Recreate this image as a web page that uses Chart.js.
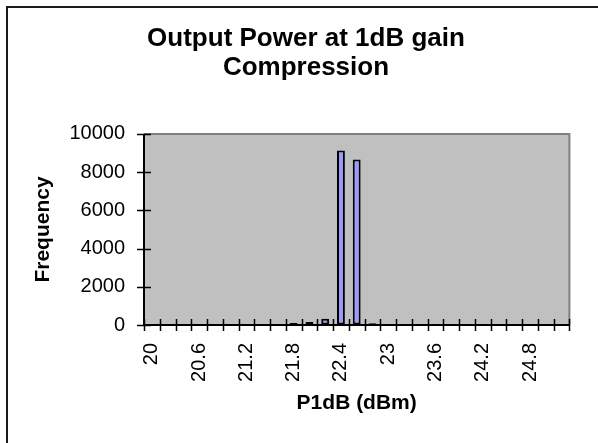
<!DOCTYPE html>
<html>
<head>
<meta charset="utf-8">
<script src="https://cdn.jsdelivr.net/npm/chart.js@4/dist/chart.umd.min.js"></script>
<style>
  html, body { margin: 0; padding: 0; background: #fff; }
  canvas { display: block; }
</style>
</head>
<body>
<canvas id="c" width="598" height="443"></canvas>
<script>
// ---- data ----
const chartTitle = ['Output Power at 1dB gain', 'Compression'];
const xTitle = 'P1dB (dBm)';
const yTitle = 'Frequency';
const categories = ['20','20.2','20.4','20.6','20.8','21','21.2','21.4','21.6','21.8',
                    '22','22.2','22.4','22.6','22.8','23','23.2','23.4','23.6','23.8',
                    '24','24.2','24.4','24.6','24.8','25','25.2'];
const frequency  = [0,0,0,0,0,0,0,0,40,100,
                    160,330,9130,8660,90,0,0,0,0,0,
                    0,0,0,0,0,0,0];
const yTickValues = [0, 2000, 4000, 6000, 8000, 10000];
const labelEvery = 3;

const FONT = "'Liberation Sans', Arial, Helvetica, sans-serif";
Chart.defaults.color = '#000';
Chart.defaults.font.family = FONT;

const framePlugin = {
  id: 'frame',
  beforeDraw(chart) {
    const { ctx, chartArea: a } = chart;
    ctx.save();
    ctx.fillStyle = '#fff';
    ctx.fillRect(0, 0, chart.width, chart.height);
    ctx.fillStyle = '#C0C0C0';
    ctx.fillRect(a.left, a.top, a.right - a.left, a.bottom - a.top);
    ctx.fillStyle = '#1a1a1a';
    ctx.fillRect(6, 6, 2, chart.height - 6);
    ctx.fillRect(6, 6, chart.width - 6, 2);
    ctx.restore();
  },
  afterDraw(chart) {
    const { ctx, chartArea: a, scales } = chart;
    ctx.save();
    ctx.strokeStyle = '#808080';
    ctx.lineWidth = 2;
    ctx.beginPath();
    ctx.moveTo(a.left, a.top);
    ctx.lineTo(a.right, a.top);
    ctx.lineTo(a.right, a.bottom);
    ctx.stroke();
    ctx.strokeStyle = '#000';
    ctx.lineWidth = 1.5;
    ctx.beginPath();
    scales.y.ticks.forEach(t => {
      const py = Math.round(scales.y.getPixelForValue(t.value)) + 0.5;
      ctx.moveTo(a.left - 7, py);
      ctx.lineTo(a.left + 7, py);
    });
    for (let i = 0; i <= categories.length; i++) {
      const px = Math.round(scales.x.getPixelForValue(i - 0.5)) + 0.5;
      ctx.moveTo(px, a.bottom - 6);
      ctx.lineTo(px, a.bottom + 6);
    }
    ctx.stroke();
    ctx.lineWidth = 2;
    ctx.beginPath();
    ctx.moveTo(a.left, a.top);
    ctx.lineTo(a.left, a.bottom);
    ctx.lineTo(a.right, a.bottom);
    ctx.stroke();
    ctx.restore();
  }
};

new Chart(document.getElementById('c'), {
  type: 'bar',
  data: {
    labels: categories,
    datasets: [{
      label: yTitle,
      data: frequency,
      backgroundColor: '#9999FF',
      borderColor: '#000',
      borderWidth: 2,
      borderSkipped: false,
      barPercentage: 0.5,
      categoryPercentage: 1.0
    }]
  },
  options: {
    responsive: false,
    animation: false,
    devicePixelRatio: 1,
    layout: { padding: { left: 40, right: 26, top: 0, bottom: 0 } },
    plugins: {
      legend: { display: false },
      tooltip: { enabled: false },
      title: {
        display: true,
        text: chartTitle,
        color: '#000',
        font: { family: FONT, size: 26, weight: 'bold', lineHeight: 1.115 },
        padding: { top: 24, bottom: 52 }
      }
    },
    scales: {
      x: {
        type: 'category',
        offset: true,
        grid: { display: true, drawOnChartArea: false, drawTicks: true, tickLength: 6, color: 'rgba(0,0,0,0)' },
        border: { display: false },
        ticks: {
          autoSkip: false,
          minRotation: 90,
          maxRotation: 90,
          padding: 12,
          color: '#000',
          font: { family: FONT, size: 20 },
          callback: function (val, idx) { return idx % labelEvery === 0 ? this.getLabelForValue(val) : ''; }
        },
        title: {
          display: true,
          text: xTitle,
          color: '#000',
          font: { family: FONT, size: 21, weight: 'bold', lineHeight: 1.2 },
          padding: { top: 0, bottom: 27 }
        },
        afterFit(scale) { scale.height = 118; }
      },
      y: {
        min: 0,
        max: 10000,
        afterBuildTicks(scale) { scale.ticks = yTickValues.map(v => ({ value: v })); },
        grid: { display: true, drawOnChartArea: false, drawTicks: true, tickLength: 6, color: 'rgba(0,0,0,0)' },
        border: { display: false },
        ticks: {
          padding: 13,
          color: '#000',
          font: { family: FONT, size: 20 },
          callback: (v) => String(v)
        },
        title: {
          display: true,
          text: yTitle,
          color: '#000',
          font: { family: FONT, size: 21, weight: 'bold', lineHeight: 1.2 },
          padding: { top: -9, bottom: 0 }
        },
        afterFit(scale) { scale.width = 104; }
      }
    }
  },
  plugins: [framePlugin]
});
</script>
</body>
</html>
